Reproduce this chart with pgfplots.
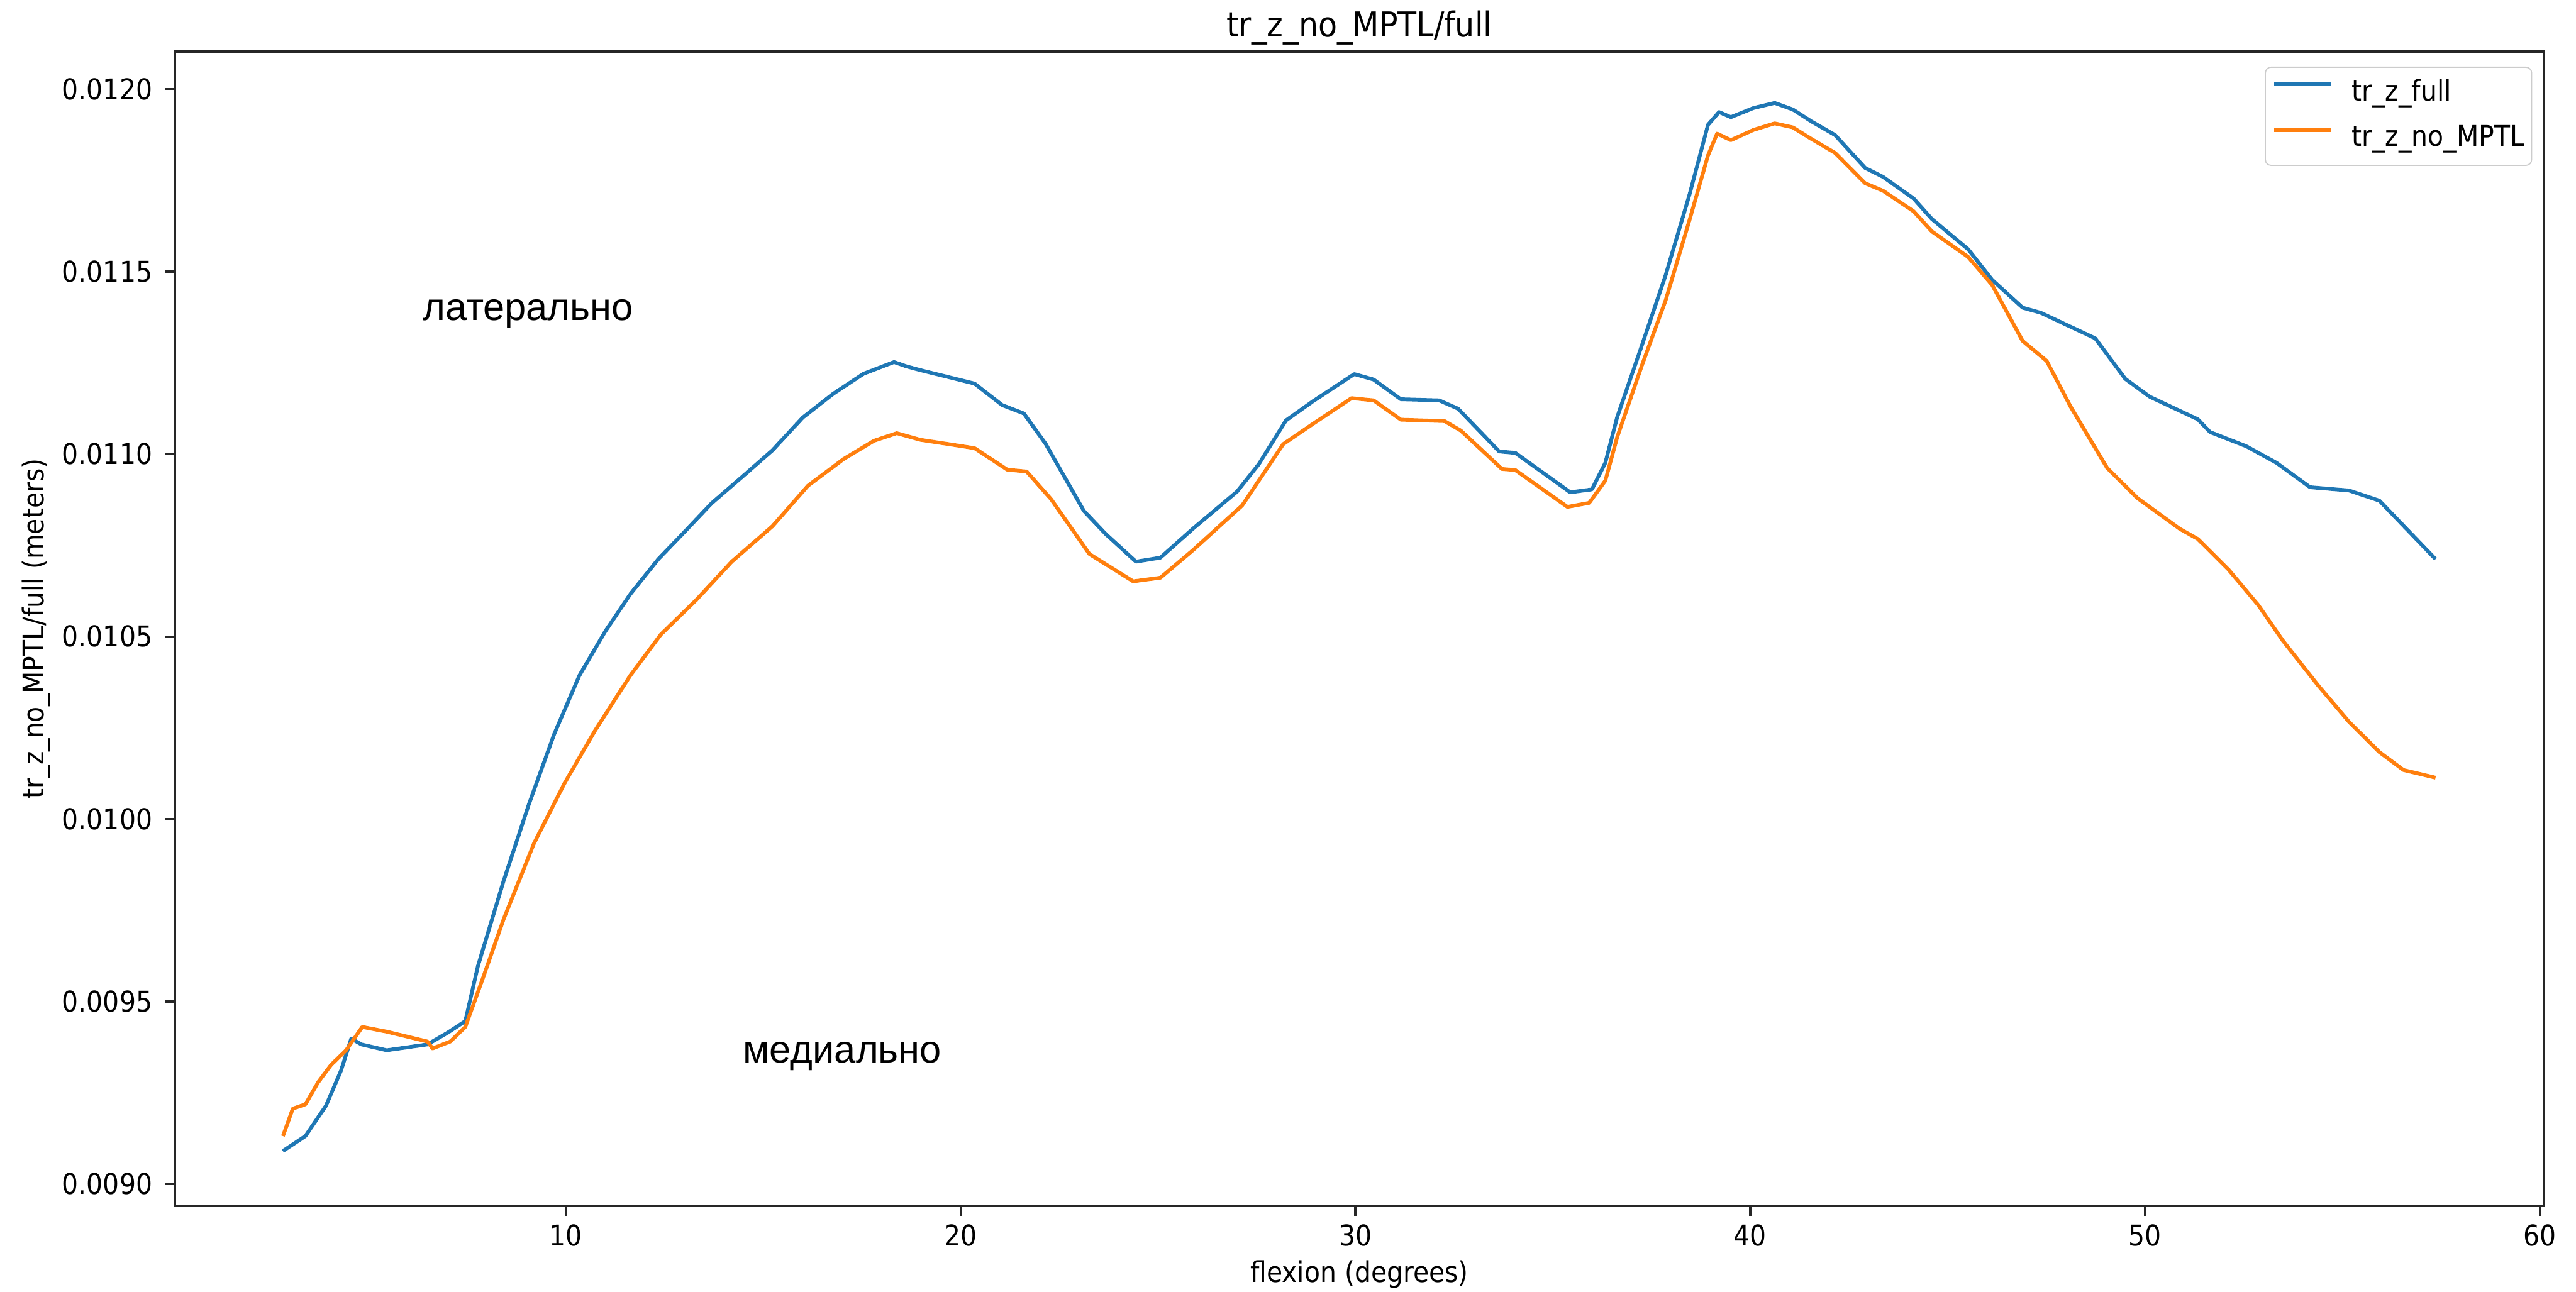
\documentclass[border=0pt]{standalone}
\usepackage{fontspec}
\setmainfont{DejaVu Sans Condensed}
\newfontfamily\rufont{Liberation Sans}
\usepackage{pgfplots}
\usepackage{pgfplotstable}
\pgfplotsset{compat=1.18}
\usetikzlibrary{calc}
\definecolor{mblue}{HTML}{1F77B4}
\definecolor{morange}{HTML}{FF7F0E}
\definecolor{spine}{HTML}{262626}

\pgfplotstableread{
x y
2.83 0.009090
3.40 0.009131
3.92 0.009214
4.30 0.009310
4.56 0.009398
4.82 0.009382
5.46 0.009366
6.49 0.009382
7.00 0.009414
7.45 0.009446
7.77 0.009597
8.42 0.009830
9.06 0.010040
9.70 0.010232
10.34 0.010393
10.99 0.010513
11.63 0.010616
12.34 0.010712
12.91 0.010776
13.69 0.010865
14.46 0.010937
15.23 0.011010
16.00 0.011100
16.77 0.011165
17.54 0.011220
18.31 0.011252
18.63 0.011240
18.97 0.011230
20.35 0.011193
21.05 0.011134
21.60 0.011111
22.15 0.011028
23.12 0.010844
23.68 0.010780
24.44 0.010705
25.06 0.010716
25.89 0.010796
27.00 0.010897
27.55 0.010972
28.24 0.011092
28.93 0.011145
29.97 0.011219
30.46 0.011204
31.15 0.011150
32.12 0.011147
32.60 0.011124
33.64 0.011007
34.05 0.011003
35.44 0.010895
35.99 0.010903
36.33 0.010976
36.63 0.011101
37.25 0.011296
37.86 0.011491
38.47 0.011714
38.93 0.011902
39.21 0.011937
39.51 0.011923
40.08 0.011948
40.62 0.011962
41.08 0.011944
41.54 0.011912
42.15 0.011874
42.91 0.011784
43.37 0.011759
44.14 0.011700
44.60 0.011644
45.52 0.011561
46.13 0.011477
46.90 0.011401
47.36 0.011387
48.74 0.011317
49.50 0.011206
50.12 0.011157
51.34 0.011095
51.65 0.011060
52.57 0.011021
53.33 0.010976
54.18 0.010909
55.17 0.010900
55.94 0.010872
57.36 0.010712
}\fulltable

\pgfplotstableread{
x y
2.83 0.009131
3.08 0.009206
3.40 0.009218
3.72 0.009278
4.05 0.009326
4.43 0.009366
4.84 0.009430
5.46 0.009417
6.49 0.009390
6.62 0.009371
7.07 0.009390
7.45 0.009430
7.90 0.009565
8.42 0.009725
9.19 0.009933
9.96 0.010097
10.73 0.010241
11.63 0.010393
12.40 0.010505
13.30 0.010600
14.20 0.010705
15.23 0.010802
16.13 0.010913
17.03 0.010986
17.80 0.011036
18.38 0.011057
18.97 0.011039
20.35 0.011016
21.18 0.010957
21.67 0.010952
22.29 0.010876
23.26 0.010726
24.37 0.010651
25.06 0.010661
25.89 0.010737
27.13 0.010859
28.17 0.011027
28.93 0.011083
29.90 0.011153
30.46 0.011147
31.15 0.011094
32.26 0.011090
32.67 0.011064
33.71 0.010959
34.05 0.010956
35.37 0.010855
35.92 0.010866
36.33 0.010927
36.63 0.011046
37.25 0.011241
37.86 0.011422
38.47 0.011644
38.93 0.011818
39.16 0.011878
39.51 0.011860
40.08 0.011888
40.62 0.011906
41.08 0.011895
41.54 0.011864
42.15 0.011825
42.91 0.011742
43.37 0.011721
44.14 0.011665
44.60 0.011610
45.52 0.011540
46.13 0.011463
46.90 0.011310
47.51 0.011255
48.12 0.011129
49.04 0.010962
49.81 0.010879
50.88 0.010795
51.34 0.010767
52.11 0.010684
52.87 0.010586
53.49 0.010489
54.40 0.010364
55.17 0.010266
55.94 0.010183
56.55 0.010134
57.36 0.010113
}\nomptltable

\begin{document}
\begin{tikzpicture}
\begin{axis}[
  scale only axis,
  width=827.5pt, height=403.4pt,
  xmin=0.1, xmax=60.1,
  ymin=0.00894, ymax=0.012103,
  xtick={10,20,30,40,50,60},
  ytick={0.0090,0.0095,0.0100,0.0105,0.0110,0.0115,0.0120},
  scaled y ticks=false,
  scaled x ticks=false,
  /pgf/number format/assume math mode=true,
  tick align=outside,
  major tick length=3.5pt,
  tick style={line width=0.8pt, color=spine},
  axis line style={line width=0.8pt, color=spine},
  xtick pos=bottom, ytick pos=left,
  font=\fontsize{10}{12}\selectfont,
  xticklabel style={anchor=north, inner sep=0pt, yshift=-2.9pt},
  yticklabel style={anchor=east, inner sep=0pt, xshift=-4.3pt,
    /pgf/number format/fixed, /pgf/number format/fixed zerofill, /pgf/number format/precision=4},
  every axis title shift=0pt,
  title={tr\_z\_no\_MPTL/full},
  title style={font=\fontsize{12}{14}\selectfont, at={(axis description cs:0.5,1.0129)}, anchor=base},
  xlabel={flexion (degrees)},
  ylabel={tr\_z\_no\_MPTL/full (meters)},
  every axis x label/.style={at={(axis description cs:0.5,-0.0664)}, anchor=base},
  every axis y label/.style={at={(axis description cs:-0.05538,0.5)}, rotate=90, anchor=base},
  legend style={at={(axis description cs:1,1)}, anchor=north east, xshift=-4pt, yshift=-5.3pt,
    draw=black!20, rounded corners=2pt, fill=white, fill opacity=0.8, text opacity=1,
    inner xsep=2.5pt, inner ysep=4.4pt, row sep=6.5pt,
    nodes={inner sep=0pt, text height=7.3pt, text depth=2.2pt},
    font=\fontsize{10}{12}\selectfont},
  legend cell align=left,
  legend image code/.code={\draw[#1, line width=1.3pt] (0pt,3.2pt) -- (20pt,3.2pt);},
  /tikz/every odd column/.append style={column sep=6.4pt},
]
\addplot[color=mblue, line width=1.3pt, line join=round] table[x=x, y=y] {\fulltable};
\addlegendentry{tr\_z\_full}
\addplot[color=morange, line width=1.3pt, line join=round] table[x=x, y=y] {\nomptltable};
\addlegendentry{tr\_z\_no\_MPTL}
\node[anchor=base, font=\rufont\fontsize{13.5}{16}\selectfont] at (axis cs:9.04,0.011367) {латерально};
\node[anchor=base, font=\rufont\fontsize{13.5}{16}\selectfont] at (axis cs:17.0,0.009331) {медиально};
\end{axis}
\pgfresetboundingbox
\path ($(current axis.south west)+(-61.2pt,-30pt)$) rectangle ($(current axis.north east)+(11.3pt,18pt)$);
\end{tikzpicture}
\end{document}
